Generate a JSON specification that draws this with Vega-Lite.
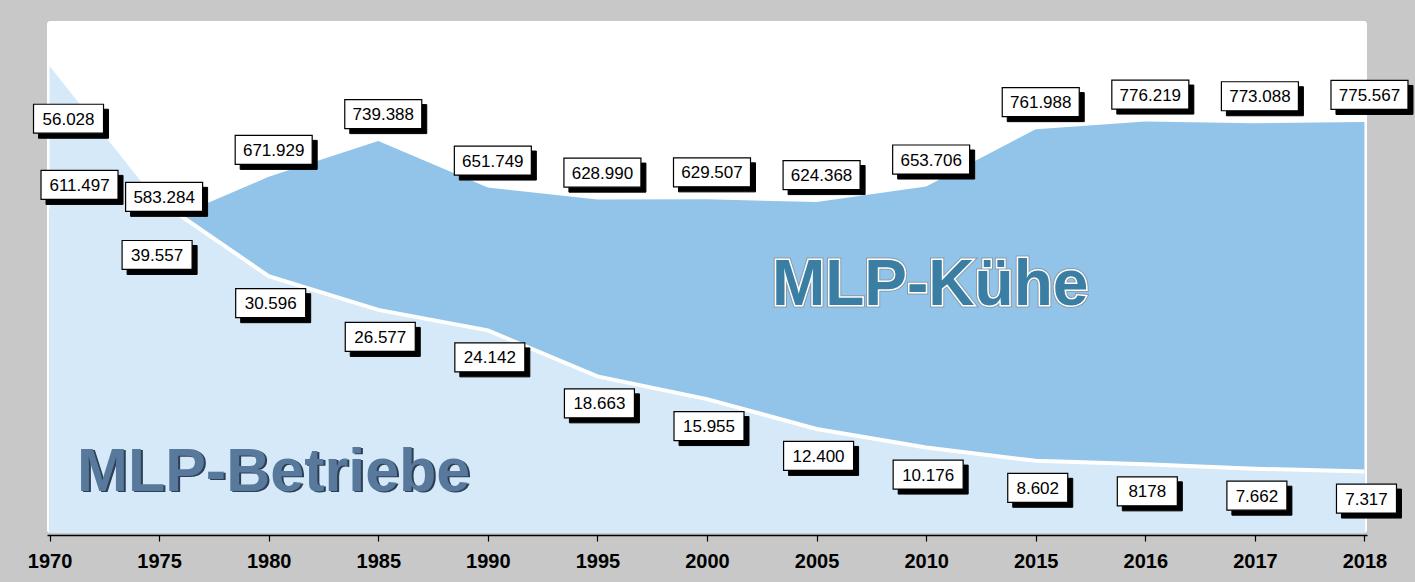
{
  "$schema": "https://vega.github.io/schema/vega-lite/v6.json",
  "width": 1320,
  "height": 512,
  "autosize": "none",
  "padding": {"left": 47, "top": 21, "right": 48, "bottom": 49},
  "background": "#c8c8c8",
  "config": {
    "view": {"fill": "white", "stroke": null, "cornerRadius": 3},
    "axisX": {
      "domainColor": "black", "domainWidth": 1.5, "tickColor": "black", "tickSize": 6, "tickWidth": 1.2,
      "labelFont": "Liberation Sans", "labelFontSize": 20, "labelFontWeight": "bold", "labelColor": "black",
      "labelPadding": 10, "labelAngle": 0, "grid": false, "offset": 2, "labelOverlap": false
    }
  },
  "data": {"values": [
    {"year": "1970", "cows": 611497, "farms": 56028, "cowLabel": "611.497", "farmLabel": "56.028"},
    {"year": "1975", "cows": 583284, "farms": 39557, "cowLabel": "583.284", "farmLabel": "39.557"},
    {"year": "1980", "cows": 671929, "farms": 30596, "cowLabel": "671.929", "farmLabel": "30.596"},
    {"year": "1985", "cows": 739388, "farms": 26577, "cowLabel": "739.388", "farmLabel": "26.577"},
    {"year": "1990", "cows": 651749, "farms": 24142, "cowLabel": "651.749", "farmLabel": "24.142"},
    {"year": "1995", "cows": 628990, "farms": 18663, "cowLabel": "628.990", "farmLabel": "18.663"},
    {"year": "2000", "cows": 629507, "farms": 15955, "cowLabel": "629.507", "farmLabel": "15.955"},
    {"year": "2005", "cows": 624368, "farms": 12400, "cowLabel": "624.368", "farmLabel": "12.400"},
    {"year": "2010", "cows": 653706, "farms": 10176, "cowLabel": "653.706", "farmLabel": "10.176"},
    {"year": "2015", "cows": 761988, "farms": 8602, "cowLabel": "761.988", "farmLabel": "8.602"},
    {"year": "2016", "cows": 776219, "farms": 8178, "cowLabel": "776.219", "farmLabel": "8178"},
    {"year": "2017", "cows": 773088, "farms": 7662, "cowLabel": "773.088", "farmLabel": "7.662"},
    {"year": "2018", "cows": 775567, "farms": 7317, "cowLabel": "775.567", "farmLabel": "7.317"}
  ]},
  "encoding": {
    "x": {"field": "year", "type": "ordinal", "title": null, "scale": {"type": "point", "padding": 0.023}}
  },
  "layer": [
    {"mark": {"type": "area", "color": "#92c4ea", "opacity": 1},
     "encoding": {"y": {"field": "cows", "type": "quantitative", "scale": {"domain": [0, 966000]}, "axis": null}}},
    {"mark": {"type": "area", "color": "#d5e9f8", "opacity": 1},
     "encoding": {"y": {"field": "farms", "type": "quantitative", "scale": {"domain": [0, 61000]}, "axis": null}}},
    {"mark": {"type": "line", "color": "white", "strokeWidth": 4},
     "encoding": {"y": {"field": "farms", "type": "quantitative", "scale": {"domain": [0, 61000]}, "axis": null}}},

    {"data": {"values": [{}]},
     "mark": {"type": "text", "text": "MLP-Kühe", "font": "Liberation Sans", "fontWeight": "bold", "fontSize": 64, "align": "center", "baseline": "alphabetic", "dx": 4, "stroke": "#8a9aa6", "strokeWidth": 5, "fill": "#8a9aa6"},
     "encoding": {"x": {"datum": "2010", "type": "ordinal"}, "y": {"datum": 430000, "type": "quantitative", "scale": {"domain": [0, 966000]}, "axis": null}}},
    {"data": {"values": [{}]},
     "mark": {"type": "text", "text": "MLP-Kühe", "font": "Liberation Sans", "fontWeight": "bold", "fontSize": 64, "align": "center", "baseline": "alphabetic", "dx": 4, "stroke": "white", "strokeWidth": 3, "fill": "white"},
     "encoding": {"x": {"datum": "2010", "type": "ordinal"}, "y": {"datum": 430000, "type": "quantitative", "scale": {"domain": [0, 966000]}, "axis": null}}},
    {"data": {"values": [{}]},
     "mark": {"type": "text", "text": "MLP-Kühe", "font": "Liberation Sans", "fontWeight": "bold", "fontSize": 64, "align": "center", "baseline": "alphabetic", "dx": 4, "fill": "#3a7fa3"},
     "encoding": {"x": {"datum": "2010", "type": "ordinal"}, "y": {"datum": 430000, "type": "quantitative", "scale": {"domain": [0, 966000]}, "axis": null}}},

    {"data": {"values": [{}]},
     "mark": {"type": "text", "text": "MLP-Betriebe", "font": "Liberation Sans", "fontWeight": "bold", "fontSize": 61, "align": "center", "baseline": "alphabetic", "dx": 7, "dy": 1, "fill": "#2b3f55"},
     "encoding": {"x": {"datum": "1980", "type": "ordinal"}, "y": {"datum": 5000, "type": "quantitative", "scale": {"domain": [0, 61000]}, "axis": null}}},
    {"data": {"values": [{}]},
     "mark": {"type": "text", "text": "MLP-Betriebe", "font": "Liberation Sans", "fontWeight": "bold", "fontSize": 61, "align": "center", "baseline": "alphabetic", "dx": 5, "fill": "#58799b"},
     "encoding": {"x": {"datum": "1980", "type": "ordinal"}, "y": {"datum": 5000, "type": "quantitative", "scale": {"domain": [0, 61000]}, "axis": null}}},

    {"transform": [{"filter": {"field": "year", "oneOf": ["1970"]}}],
     "mark": {"type": "point", "shape": "M-1,-0.377H1V0.377H-1Z", "size": 5929, "filled": true, "fill": "black", "stroke": "black", "strokeWidth": 1, "opacity": 1, "xOffset": 35, "yOffset": -19},
     "encoding": {"y": {"field": "cows", "type": "quantitative", "scale": {"domain": [0, 966000]}, "axis": null}}},
    {"transform": [{"filter": {"field": "year", "oneOf": ["1970"]}}],
     "mark": {"type": "point", "shape": "M-1,-0.377H1V0.377H-1Z", "size": 5929, "filled": true, "fill": "white", "stroke": "black", "strokeWidth": 1.2, "opacity": 1, "xOffset": 30, "yOffset": -24},
     "encoding": {"y": {"field": "cows", "type": "quantitative", "scale": {"domain": [0, 966000]}, "axis": null}}},
    {"transform": [{"filter": {"field": "year", "oneOf": ["1970"]}}],
     "mark": {"type": "text", "font": "Liberation Sans", "fontSize": 17, "color": "black", "align": "center", "baseline": "middle", "xOffset": 30, "yOffset": -23},
     "encoding": {"y": {"field": "cows", "type": "quantitative", "scale": {"domain": [0, 966000]}, "axis": null}, "text": {"field": "cowLabel"}}},

    {"transform": [{"filter": {"not": {"field": "year", "oneOf": ["1970"]}}}],
     "mark": {"type": "point", "shape": "M-1,-0.377H1V0.377H-1Z", "size": 5929, "filled": true, "fill": "black", "stroke": "black", "strokeWidth": 1, "opacity": 1, "xOffset": 10, "yOffset": -22},
     "encoding": {"y": {"field": "cows", "type": "quantitative", "scale": {"domain": [0, 966000]}, "axis": null}}},
    {"transform": [{"filter": {"not": {"field": "year", "oneOf": ["1970"]}}}],
     "mark": {"type": "point", "shape": "M-1,-0.377H1V0.377H-1Z", "size": 5929, "filled": true, "fill": "white", "stroke": "black", "strokeWidth": 1.2, "opacity": 1, "xOffset": 5, "yOffset": -27},
     "encoding": {"y": {"field": "cows", "type": "quantitative", "scale": {"domain": [0, 966000]}, "axis": null}}},
    {"transform": [{"filter": {"not": {"field": "year", "oneOf": ["1970"]}}}],
     "mark": {"type": "text", "font": "Liberation Sans", "fontSize": 17, "color": "black", "align": "center", "baseline": "middle", "xOffset": 5, "yOffset": -26},
     "encoding": {"y": {"field": "cows", "type": "quantitative", "scale": {"domain": [0, 966000]}, "axis": null}, "text": {"field": "cowLabel"}}},

    {"transform": [{"filter": {"field": "year", "oneOf": ["1970"]}}],
     "mark": {"type": "point", "shape": "M-1,-0.414H1V0.414H-1Z", "size": 4900, "filled": true, "fill": "black", "stroke": "black", "strokeWidth": 1, "opacity": 1, "xOffset": 24, "yOffset": 61},
     "encoding": {"y": {"field": "farms", "type": "quantitative", "scale": {"domain": [0, 61000]}, "axis": null}}},
    {"transform": [{"filter": {"field": "year", "oneOf": ["1970"]}}],
     "mark": {"type": "point", "shape": "M-1,-0.414H1V0.414H-1Z", "size": 4900, "filled": true, "fill": "white", "stroke": "black", "strokeWidth": 1.2, "opacity": 1, "xOffset": 19, "yOffset": 56},
     "encoding": {"y": {"field": "farms", "type": "quantitative", "scale": {"domain": [0, 61000]}, "axis": null}}},
    {"transform": [{"filter": {"field": "year", "oneOf": ["1970"]}}],
     "mark": {"type": "text", "font": "Liberation Sans", "fontSize": 17, "color": "black", "align": "center", "baseline": "middle", "xOffset": 19, "yOffset": 57},
     "encoding": {"y": {"field": "farms", "type": "quantitative", "scale": {"domain": [0, 61000]}, "axis": null}, "text": {"field": "farmLabel"}}},

    {"transform": [{"filter": {"field": "year", "oneOf": ["1975"]}}],
     "mark": {"type": "point", "shape": "M-1,-0.414H1V0.414H-1Z", "size": 4900, "filled": true, "fill": "black", "stroke": "black", "strokeWidth": 1, "opacity": 1, "xOffset": 3, "yOffset": 59},
     "encoding": {"y": {"field": "farms", "type": "quantitative", "scale": {"domain": [0, 61000]}, "axis": null}}},
    {"transform": [{"filter": {"field": "year", "oneOf": ["1975"]}}],
     "mark": {"type": "point", "shape": "M-1,-0.414H1V0.414H-1Z", "size": 4900, "filled": true, "fill": "white", "stroke": "black", "strokeWidth": 1.2, "opacity": 1, "xOffset": -2, "yOffset": 54},
     "encoding": {"y": {"field": "farms", "type": "quantitative", "scale": {"domain": [0, 61000]}, "axis": null}}},
    {"transform": [{"filter": {"field": "year", "oneOf": ["1975"]}}],
     "mark": {"type": "text", "font": "Liberation Sans", "fontSize": 17, "color": "black", "align": "center", "baseline": "middle", "xOffset": -2, "yOffset": 55},
     "encoding": {"y": {"field": "farms", "type": "quantitative", "scale": {"domain": [0, 61000]}, "axis": null}, "text": {"field": "farmLabel"}}},

    {"transform": [{"filter": {"field": "year", "oneOf": ["1980", "1985", "1990", "1995", "2000", "2005", "2010"]}}],
     "mark": {"type": "point", "shape": "M-1,-0.414H1V0.414H-1Z", "size": 4900, "filled": true, "fill": "black", "stroke": "black", "strokeWidth": 1, "opacity": 1, "xOffset": 7, "yOffset": 32},
     "encoding": {"y": {"field": "farms", "type": "quantitative", "scale": {"domain": [0, 61000]}, "axis": null}}},
    {"transform": [{"filter": {"field": "year", "oneOf": ["1980", "1985", "1990", "1995", "2000", "2005", "2010"]}}],
     "mark": {"type": "point", "shape": "M-1,-0.414H1V0.414H-1Z", "size": 4900, "filled": true, "fill": "white", "stroke": "black", "strokeWidth": 1.2, "opacity": 1, "xOffset": 2, "yOffset": 27},
     "encoding": {"y": {"field": "farms", "type": "quantitative", "scale": {"domain": [0, 61000]}, "axis": null}}},
    {"transform": [{"filter": {"field": "year", "oneOf": ["1980", "1985", "1990", "1995", "2000", "2005", "2010"]}}],
     "mark": {"type": "text", "font": "Liberation Sans", "fontSize": 17, "color": "black", "align": "center", "baseline": "middle", "xOffset": 2, "yOffset": 28},
     "encoding": {"y": {"field": "farms", "type": "quantitative", "scale": {"domain": [0, 61000]}, "axis": null}, "text": {"field": "farmLabel"}}},

    {"transform": [{"filter": {"field": "year", "oneOf": ["2015", "2016", "2017", "2018"]}}],
     "mark": {"type": "point", "shape": "M-1,-0.483H1V0.483H-1Z", "size": 3600, "filled": true, "fill": "black", "stroke": "black", "strokeWidth": 1, "opacity": 1, "xOffset": 7, "yOffset": 32},
     "encoding": {"y": {"field": "farms", "type": "quantitative", "scale": {"domain": [0, 61000]}, "axis": null}}},
    {"transform": [{"filter": {"field": "year", "oneOf": ["2015", "2016", "2017", "2018"]}}],
     "mark": {"type": "point", "shape": "M-1,-0.483H1V0.483H-1Z", "size": 3600, "filled": true, "fill": "white", "stroke": "black", "strokeWidth": 1.2, "opacity": 1, "xOffset": 2, "yOffset": 27},
     "encoding": {"y": {"field": "farms", "type": "quantitative", "scale": {"domain": [0, 61000]}, "axis": null}}},
    {"transform": [{"filter": {"field": "year", "oneOf": ["2015", "2016", "2017", "2018"]}}],
     "mark": {"type": "text", "font": "Liberation Sans", "fontSize": 17, "color": "black", "align": "center", "baseline": "middle", "xOffset": 2, "yOffset": 28},
     "encoding": {"y": {"field": "farms", "type": "quantitative", "scale": {"domain": [0, 61000]}, "axis": null}, "text": {"field": "farmLabel"}}}
  ],
  "resolve": {"scale": {"y": "independent"}}
}
